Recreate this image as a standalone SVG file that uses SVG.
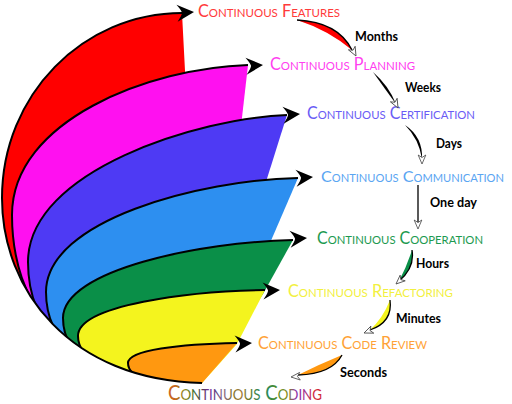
<svg xmlns="http://www.w3.org/2000/svg" width="512" height="404" viewBox="0 0 512 404">
<style>
.edge{fill:none;stroke:#000;stroke-width:2;stroke-linejoin:round}
.lbl{font-family:Lato,"Open Sans","Liberation Sans",sans-serif;font-size:17px;font-variant:small-caps}
.t{font-family:Lato,"Liberation Sans",sans-serif;font-weight:bold;font-size:14px;fill:#000}
.ah{fill:#000}
.ha{fill:#fff;stroke:#444;stroke-width:0.8}
.sw{fill:none;stroke:#000;stroke-width:1.3}
</style>
<defs>
<clipPath id="sil"><path d="M182,13 C83,13 2,95 2,198 C2,290 70,380 202,383 L512,383 L512,0 L182,0 Z"/></clipPath>
<path id="head" d="M0,0 L-17,-8.5 Q-12,-2 -12,0 Q-12,2 -17,8.5 Z"/>
<path id="hollow" d="M0,0 L-9,-3.8 L-6.5,0 L-9,3.8 Z"/>
<linearGradient id="rainbow" gradientUnits="userSpaceOnUse" x1="168" y1="0" x2="322" y2="0">
<stop offset="0.04" stop-color="#c8641e"/>
<stop offset="0.11" stop-color="#8a8a22"/>
<stop offset="0.17" stop-color="#3f6a2c"/>
<stop offset="0.23" stop-color="#5a3a5e"/>
<stop offset="0.27" stop-color="#7a30a0"/>
<stop offset="0.31" stop-color="#5c3c78"/>
<stop offset="0.36" stop-color="#8a6a8a"/>
<stop offset="0.42" stop-color="#807028"/>
<stop offset="0.48" stop-color="#a07a3a"/>
<stop offset="0.53" stop-color="#607a2c"/>
<stop offset="0.62" stop-color="#1e8a6e"/>
<stop offset="0.70" stop-color="#4e8a2a"/>
<stop offset="0.78" stop-color="#8a8a22"/>
<stop offset="0.83" stop-color="#8a30a8"/>
<stop offset="0.88" stop-color="#9a3090"/>
<stop offset="0.95" stop-color="#d02838"/>
</linearGradient>
</defs>

<g id="features">
<path fill="#ff0000" d="M182,13 C83,13 2,95 2,198 C2,290 70,380 202,383 L186,90 Z"/>
<use href="#head" class="ah" transform="translate(194,12) rotate(-4)"/>
<text class="lbl" x="198" y="17" fill="#ff3a3a" textLength="142" lengthAdjust="spacingAndGlyphs">Continuous Features</text>
</g>

<g id="planning">
<path clip-path="url(#sil)" fill="#ff10f0" d="M248,65 C150,68 12,120 12,215 C12,300 60,386 202,383 L240,135 Z"/>
<path clip-path="url(#sil)" class="edge" d="M248,65 C150,68 12,120 12,215 C12,300 60,386 202,383"/>
<use href="#head" class="ah" transform="translate(263,65) rotate(-4)"/>
<text class="lbl" x="270" y="70" fill="#ff40f0" textLength="145" lengthAdjust="spacingAndGlyphs">Continuous Planning</text>
</g>

<g id="certification">
<path clip-path="url(#sil)" fill="#4e3af4" d="M287,115 C200,118 28,170 28,262 C28,315 60,386 202,383 L265,185 Z"/>
<path clip-path="url(#sil)" class="edge" d="M287,115 C200,118 28,170 28,262 C28,315 60,386 202,383"/>
<use href="#head" class="ah" transform="translate(300,114) rotate(-4)"/>
<text class="lbl" x="307" y="119" fill="#6a5cf5" textLength="168" lengthAdjust="spacingAndGlyphs">Continuous Certification</text>
</g>

<g id="communication">
<path clip-path="url(#sil)" fill="#2d8ff0" d="M298,178 C200,180 46,220 46,292 C46,330 70,386 202,383 L270,243 Z"/>
<path clip-path="url(#sil)" class="edge" d="M298,178 C200,180 46,220 46,292 C46,330 70,386 202,383"/>
<use href="#head" class="ah" transform="translate(313,177) rotate(-4)"/>
<text class="lbl" x="321" y="182" style="font-size:16px" fill="#5aa5f2" textLength="183" lengthAdjust="spacingAndGlyphs">Continuous Communication</text>
</g>

<g id="cooperation">
<path clip-path="url(#sil)" fill="#0a8f48" d="M293,240 C200,242 63,270 63,318 C63,345 80,383 202,383 L263,294 Z"/>
<path clip-path="url(#sil)" class="edge" d="M293,240 C200,242 63,270 63,318 C63,345 80,383 202,383"/>
<use href="#head" class="ah" transform="translate(307,238) rotate(-4)"/>
<text class="lbl" x="317" y="244" fill="#1c9a50" textLength="166" lengthAdjust="spacingAndGlyphs">Continuous Cooperation</text>
</g>

<g id="refactoring">
<path clip-path="url(#sil)" fill="#f4f41e" d="M265,290 C190,291 78,305 78,336 C78,352 95,382 202,383 L237,344 Z"/>
<path clip-path="url(#sil)" class="edge" d="M265,290 C190,291 78,305 78,336 C78,352 95,382 202,383"/>
<use href="#head" class="ah" transform="translate(280,290) rotate(-3)"/>
<text class="lbl" x="288" y="297" fill="#f2f040" textLength="165" lengthAdjust="spacingAndGlyphs">Continuous Refactoring</text>
</g>

<g id="code-review">
<path clip-path="url(#sil)" fill="#ff9810" d="M237,343 C180,344 128,350 128,363 C128,376 150,388 202,383 Z"/>
<path clip-path="url(#sil)" class="edge" d="M237,343 C180,344 128,350 128,363 C128,376 150,388 202,383"/>
<use href="#head" class="ah" transform="translate(252,343) rotate(-3)"/>
<text class="lbl" x="258" y="349" fill="#ffa236" textLength="169" lengthAdjust="spacingAndGlyphs">Continuous Code Review</text>
</g>

<g id="outline">
<path class="edge" d="M182,13 C83,13 2,95 2,198 C2,290 70,380 202,383"/>
</g>

<g id="coding">
<text class="lbl" x="168" y="400" style="font-size:21px" fill="url(#rainbow)" textLength="154" lengthAdjust="spacingAndGlyphs">Continuous Coding</text>
</g>

<g id="connectors">
<path fill="#ff0000" d="M297,20 Q338,22 352,50 Q328,30 297,20 Z"/>
<path class="sw" d="M297,20 Q338,22 352,50"/>
<use href="#hollow" class="ha" transform="translate(356,56) rotate(62)"/>
<text class="t" x="355" y="41" textLength="43" lengthAdjust="spacingAndGlyphs">Months</text>

<path fill="#000" d="M373,72 Q389,86 396,104 Q385,89 373,72 Z"/>
<use href="#hollow" class="ha" transform="translate(398,108) rotate(62)"/>
<text class="t" x="405" y="92" textLength="36" lengthAdjust="spacingAndGlyphs">Weeks</text>

<path fill="#000" d="M405,125 Q423,137 422,159 Q419,139 405,125 Z"/>
<use href="#hollow" class="ha" transform="translate(422,164) rotate(90)"/>
<text class="t" x="436" y="148" textLength="26" lengthAdjust="spacingAndGlyphs">Days</text>

<path class="sw" d="M418,185 L418,224"/>
<use href="#hollow" class="ha" transform="translate(418,229) rotate(90)"/>
<text class="t" x="430" y="207" textLength="47" lengthAdjust="spacingAndGlyphs">One day</text>

<path fill="#0a8f48" d="M412,250 Q415,268 399,281 Q407,266 412,250 Z"/>
<path class="sw" d="M412,250 Q415,268 399,281"/>
<use href="#hollow" class="ha" transform="translate(396,284) rotate(138)"/>
<text class="t" x="416" y="268" textLength="33" lengthAdjust="spacingAndGlyphs">Hours</text>

<path fill="#f4f41e" d="M390,300 Q393,322 370,330 Q383,318 390,300 Z"/>
<path class="sw" d="M390,300 Q393,322 370,330"/>
<use href="#hollow" class="ha" transform="translate(364,333) rotate(158)"/>
<text class="t" x="396" y="323" textLength="45" lengthAdjust="spacingAndGlyphs">Minutes</text>

<path fill="#ff9810" d="M342,355 Q332,374 298,375 Q320,364 342,355 Z"/>
<path class="sw" d="M342,355 Q332,374 298,375"/>
<use href="#hollow" class="ha" transform="translate(291,377) rotate(175)"/>
<text class="t" x="340" y="377" textLength="47" lengthAdjust="spacingAndGlyphs">Seconds</text>
</g>
</svg>
